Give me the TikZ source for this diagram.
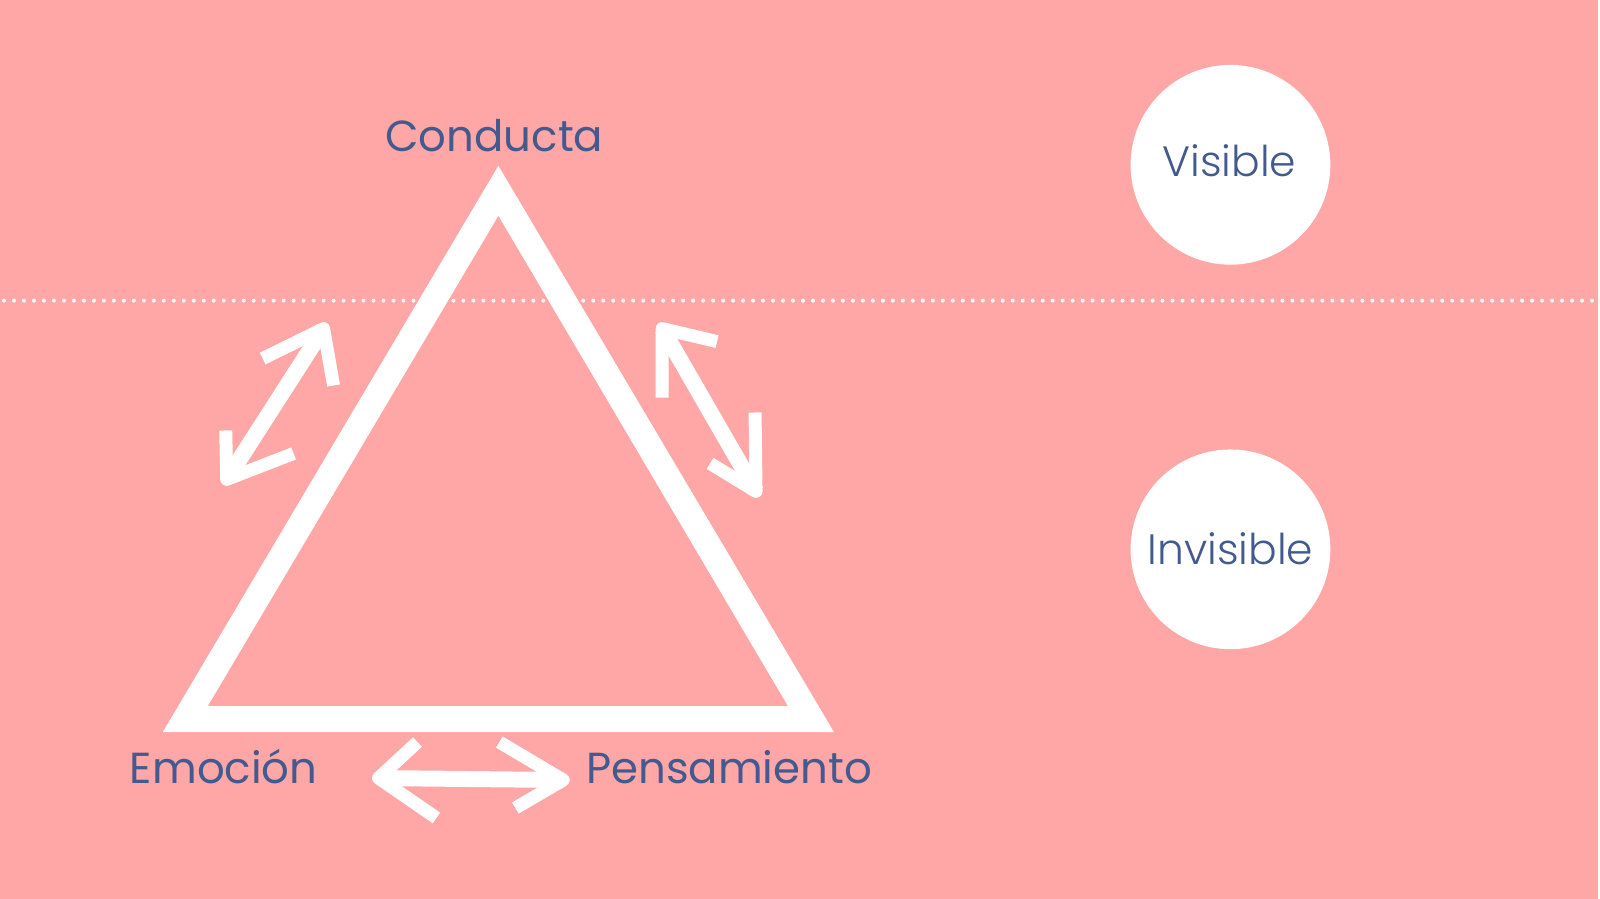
\documentclass[tikz,border=0pt]{standalone}
\usepackage{fontspec}
\setmainfont{Poppins}
\IfFontExistsTF{Poppins Light}{\newfontfamily\lightfont{Poppins Light}}{\newfontfamily\lightfont{Poppins}}
\definecolor{bgpink}{HTML}{FFA6A6}
\definecolor{inkblue}{HTML}{435A8E}

\begin{document}
\begin{tikzpicture}
[x=1pt,y=-1pt,
 every node/.style={text=inkblue,inner sep=0pt},
 vertex/.style={anchor=base,font=\fontsize{43.5}{43.5}\selectfont},
 bubble/.style={circle,fill=white,minimum size=200pt},
 bubbletext/.style={anchor=base,font=\lightfont\fontsize{42.5}{42.5}\selectfont},
 shaft/.style={white,line width=16pt},
 barb/.style={white,line width=13pt,line join=round}]
\fill[bgpink] (0,0) rectangle (1600,900);
% dotted water line
\draw[white,line width=4pt,line cap=round,dash pattern=on 0pt off 10pt] (4,301) -- (1600,301);
% triangle
\fill[white,even odd rule] (499,166) -- (163,733) -- (835,733) -- cycle
  (499,216) -- (208,707) -- (789,707) -- cycle;
% corners
\node[vertex] (cond) at (495,152) {Conducta};
\node[vertex] (emo) at (224,784) {Emoción};
\node[vertex] (pens) at (730,784) {Pensamiento};
% circles
\node[bubble] (vis) at (1232,165) {};
\node[bubble] (invis) at (1232,550) {};
\node[bubbletext] (vistext) at (1231,177) {Visible};
\node[bubbletext] (invistext) at (1232,565) {Invisible};
% arrow tips and barbs
\coordinate (l1) at (324,329); \coordinate (l1a) at (263,359); \coordinate (l1b) at (334,386);
\coordinate (l2) at (227,480); \coordinate (l2a) at (226,431); \coordinate (l2b) at (294,454);
\coordinate (r1) at (663,329); \coordinate (r1a) at (718,342); \coordinate (r1b) at (663,398);
\coordinate (r2) at (757,492); \coordinate (r2a) at (756,413); \coordinate (r2b) at (711,464);
\coordinate (b1) at (379,779); \coordinate (b1a) at (418,743); \coordinate (b1b) at (437,819);
\coordinate (b2) at (564,781); \coordinate (b2a) at (500,743); \coordinate (b2b) at (516,809);
\foreach \from/\to in {l1/l2,r1/r2,b1/b2}
\draw[shaft] (\from) -- (\to);
\foreach \tip/\sidea/\sideb in {l1/l1a/l1b,l2/l2a/l2b,r1/r1a/r1b,r2/r2a/r2b,b1/b1a/b1b,b2/b2a/b2b}
\draw[barb] (\sidea) -- (\tip) -- (\sideb);
\end{tikzpicture}
\end{document}
